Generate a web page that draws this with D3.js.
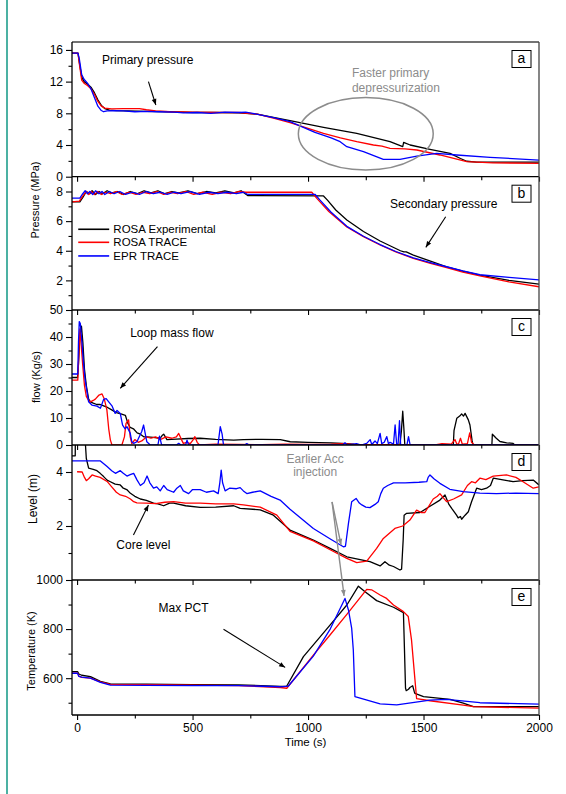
<!DOCTYPE html>
<html>
<head>
<meta charset="utf-8">
<script src="https://cdn.jsdelivr.net/npm/d3@7"></script>
<style>
  html, body { margin: 0; padding: 0; background: #fff; }
  svg { display: block; font-family: Arial, "Liberation Sans", sans-serif; }
</style>
</head>
<body>
<svg id="chart" width="566" height="794"></svg>
<script>
// ---- Data: time (s) and value pairs for each transient ----
const seriesNames = ["ROSA Experimental", "ROSA TRACE", "EPR TRACE"];

const timeTicks = [0, 500, 1000, 1500, 2000];
const timeMinorTicks = [250, 750, 1250, 1750];
const pressureTicksA = [0, 4, 8, 12, 16];
const pressureMinorA = [2, 6, 10, 14];
const pressureTicksB = [2, 4, 6, 8];
const pressureMinorB = [1, 3, 5, 7];
const flowTicks = [0, 10, 20, 30, 40, 50];
const flowMinor = [5, 15, 25, 35, 45];
const levelTicks = [2, 4];
const levelMinor = [1, 3];
const tempTicks = [600, 800, 1000];
const tempMinor = [500, 700, 900];

// (a) primary pressure, MPa
const primaryExp = [[-22,15.6],[4,15.6],[10,14.4],[20,12.6],[30,12.0],[45,11.7],[60,11.3],[75,10.6],[90,9.7],[105,9.0],[120,8.6],[140,8.4],[170,8.35],[220,8.3],[300,8.25],[400,8.2],[500,8.1],[600,8.1],[700,8.05],[780,7.9],[850,7.5],[922,7.07],[1067,6.23],[1211,5.47],[1355,4.42],[1410,3.8],[1414,4.34],[1442,4.0],[1528,3.46],[1615,2.95],[1660,2.3],[1687,1.95],[1730,1.85],[2000,1.85]];
const primaryRosa = [[-22,15.6],[4,15.6],[10,14.2],[20,12.2],[30,11.8],[45,11.5],[60,11.1],[75,10.4],[90,9.5],[105,8.9],[120,8.65],[150,8.55],[200,8.6],[270,8.6],[300,8.45],[340,8.3],[400,8.2],[500,8.15],[600,8.1],[700,8.1],[780,7.9],[850,7.4],[922,6.82],[1000,6.1],[1067,5.47],[1140,4.9],[1211,4.42],[1283,4.0],[1320,3.85],[1355,3.58],[1420,3.5],[1471,3.37],[1571,2.74],[1687,1.9],[1800,1.75],[2000,1.69]];
const primaryEpr = [[-22,15.6],[4,15.6],[10,14.8],[20,12.9],[30,12.3],[45,11.8],[60,11.1],[75,10.0],[90,8.9],[105,8.35],[115,8.2],[130,8.3],[160,8.35],[200,8.3],[250,8.2],[300,8.25],[350,8.2],[420,8.15],[460,8.05],[520,8.1],[580,8.0],[640,8.15],[700,8.1],[730,8.15],[760,8.0],[850,7.45],[922,6.94],[1030,5.6],[1100,4.9],[1139,4.42],[1168,3.79],[1240,3.16],[1290,2.6],[1326,2.19],[1398,2.19],[1471,2.61],[1557,2.95],[1644,2.74],[1788,2.45],[2000,2.1]];

// (b) secondary pressure, MPa
const secondaryExp = [[-22,7.3],[12,7.3],[25,7.6],[40,8.0],[55,7.85],[65,8.05],[80,7.8],[95,8.0],[110,7.85],[130,8.05],[150,7.9],[175,8.0],[200,7.8],[230,8.0],[260,7.85],[290,8.05],[320,7.9],[350,8.05],[380,7.85],[410,8.0],[440,7.9],[480,8.05],[520,7.85],[560,8.0],[600,7.9],[640,8.05],[680,7.9],[710,8.05],[740,7.72],[1067,7.7],[1085,7.4],[1120,6.75],[1168,6.08],[1240,5.3],[1312,4.66],[1400,4.0],[1415,3.92],[1425,3.92],[1456,3.71],[1530,3.3],[1600,2.92],[1670,2.62],[1744,2.36],[1870,2.0],[2000,1.74]];
const secondaryRosa = [[-22,7.3],[10,7.35],[25,7.7],[40,8.0],[50,7.8],[62,8.0],[75,7.8],[90,8.0],[105,7.8],[125,7.95],[145,7.85],[170,8.0],[195,7.8],[225,7.95],[255,7.8],[285,7.95],[315,7.85],[345,8.0],[375,7.8],[405,7.95],[435,7.85],[470,8.0],[505,7.8],[545,7.95],[585,7.8],[625,7.95],[665,7.85],[700,8.0],[730,7.95],[1016,7.95],[1040,7.5],[1090,6.65],[1168,5.6],[1240,4.95],[1312,4.39],[1380,3.92],[1456,3.49],[1530,3.15],[1600,2.86],[1670,2.56],[1744,2.30],[1870,1.9],[2000,1.57]];
const secondaryEpr = [[-22,7.55],[12,7.55],[22,7.8],[35,8.05],[45,7.85],[55,8.0],[68,7.8],[80,8.05],[95,7.85],[108,8.0],[120,7.8],[140,8.0],[160,7.85],[185,8.0],[210,7.8],[240,7.95],[270,7.8],[300,8.0],[330,7.85],[360,7.95],[390,7.8],[420,7.95],[450,7.85],[490,8.0],[530,7.8],[570,7.95],[610,7.85],[650,7.95],[690,7.85],[720,7.95],[740,7.8],[1031,7.8],[1050,7.45],[1100,6.6],[1168,5.65],[1240,4.98],[1312,4.42],[1380,3.95],[1456,3.52],[1530,3.2],[1600,2.92],[1670,2.64],[1744,2.38],[1870,2.2],[2000,2.03]];

// (c) loop mass flow, kg/s
const flowExp = [[-22,25],[2,25],[6,30],[12,40],[19,44],[25,38],[32,28],[40,22],[50,17],[58,16],[70,15.5],[85,15],[100,15],[115,14.5],[130,14],[150,13],[170,12],[190,11.5],[209,11],[220,8],[230,6.5],[244,6],[260,4.5],[274,4],[290,3],[303,3],[330,2.8],[360,2.5],[368,3.5],[375,4],[382,3],[389,2],[430,2.2],[480,2.4],[533,2.5],[600,2.1],[678,1.8],[720,2.0],[800,2.1],[880,2.0],[923,1.2],[1000,1.0],[1100,0.8],[1170,0.5],[1200,0.2],[1398,0.1],[1404,5],[1410,12.5],[1415,6],[1419,0],[1629,0],[1632,5.3],[1644,9.9],[1658,10.8],[1665,11.5],[1673,10.7],[1680,11.7],[1694,9.3],[1701,7.4],[1710,1.8],[1714,0],[1796,0],[1798,4],[1815,2.5],[1831,1.3],[1860,0.8],[1888,0.6],[1895,0],[2000,0]];
const flowRosa = [[-22,24],[3,24],[7,32],[12,43],[17,38],[24,30],[32,22],[40,18],[50,16.5],[58,16],[70,16.5],[79,17],[95,18.5],[108,18.9],[118,17],[129,13],[137,6],[144,1.9],[151,0],[194,0],[205,3],[212,8],[223,9.3],[230,3],[237,0.5],[250,2],[265,1],[280,1.5],[300,3],[320,2.5],[340,3],[360,2],[385,3],[410,2.5],[430,3],[440,4.3],[452,2],[460,0.6],[475,1],[490,0.5],[503,2],[510,3.1],[520,1],[530,0],[600,0.3],[700,0.2],[800,0.1],[900,0.3],[1000,0.2],[1100,0.3],[1150,0.5],[1200,0.2],[1550,0],[1580,0.5],[1620,0.3],[1636,2],[1645,0.2],[1652,0.5],[1660,2.5],[1668,0.3],[1690,0.5],[1700,4.5],[1708,1],[1720,0],[2000,0]];
const flowEpr = [[-22,26.3],[3,26.3],[6,38],[9.5,45.7],[14,45],[21,38],[28,30],[35,24],[50,16],[64,14.8],[86,14.4],[101,13.6],[115,16.9],[126,17.2],[137,16],[151,14.5],[165,11.7],[173,12.8],[187,11.7],[197,7.4],[208,6],[216,6.8],[230,4.4],[237,1.2],[245,0.6],[259,1.2],[280,5],[288,7.4],[302,1.2],[317,0],[350,0],[357,3.3],[366,0],[430,0],[440,0.6],[450,0],[470,0],[476,1.8],[483,0],[610,0],[620,6.8],[628,4],[634,0],[725,0],[735,0.5],[745,0],[1150,0],[1160,0.8],[1170,0],[1210,0.5],[1230,0],[1254,0.6],[1269,2],[1276,0.2],[1290,1.5],[1300,0.5],[1312,4.3],[1319,0.5],[1330,1],[1341,3.1],[1348,0.5],[1355,1],[1370,0.3],[1377,7.4],[1384,0],[1390,0.5],[1396,9],[1401,0],[1428,0],[1435,3.1],[1442,0],[2000,0]];

// (d) core level, m
const levelExp = [[-22,4.6],[-8,4.6],[-7,6],[29,6],[40,4.5],[50,4.14],[70,4.1],[86,4.05],[100,3.95],[115,3.83],[130,3.7],[144,3.64],[165,3.55],[187,3.52],[200,3.4],[215,3.35],[231,3.21],[250,3.1],[274,3.0],[300,2.95],[331,2.85],[350,2.82],[375,2.75],[400,2.85],[418,2.85],[470,2.75],[533,2.69],[600,2.7],[678,2.75],[706,2.65],[793,2.6],[850,2.4],[922,1.85],[1023,1.48],[1100,1.15],[1168,0.86],[1268,0.68],[1312,0.52],[1333,0.68],[1352,0.55],[1370,0.5],[1398,0.37],[1405,0.4],[1412,1.5],[1416,2.4],[1427,2.47],[1485,2.5],[1528,2.73],[1571,2.96],[1593,3.15],[1610,2.8],[1622,2.65],[1643,2.4],[1650,2.3],[1660,2.35],[1665,2.25],[1680,2.4],[1694,2.53],[1708,2.9],[1730,3.4],[1751,3.35],[1773,3.4],[1790,3.5],[1802,3.77],[1850,3.7],[1888,3.64],[1930,3.68],[1975,3.7],[2000,3.52]];
const levelRosa = [[0,4.01],[22,4.0],[32,3.8],[40,3.68],[50,3.75],[65,3.89],[80,3.85],[100,3.8],[130,3.65],[150,3.45],[170,3.25],[187,3.15],[210,3.1],[231,3.0],[245,2.9],[259,2.86],[300,2.85],[340,2.83],[380,2.88],[418,2.9],[470,2.85],[533,2.85],[600,2.82],[678,2.82],[720,2.78],[793,2.7],[865,2.4],[922,1.8],[1023,1.45],[1100,1.1],[1168,0.8],[1211,0.64],[1254,0.7],[1297,1.17],[1326,1.54],[1376,1.91],[1410,2.0],[1441,2.22],[1470,2.59],[1490,2.5],[1506,2.5],[1542,3.0],[1560,3.1],[1571,3.2],[1585,3.05],[1600,2.9],[1630,3.0],[1665,3.15],[1690,3.5],[1708,3.64],[1725,3.6],[1744,3.77],[1770,3.72],[1802,3.85],[1859,3.89],[1900,3.8],[1931,3.64],[1975,3.4],[2000,3.45]];
const levelEpr = [[-22,4.41],[101,4.41],[130,4.2],[150,4.05],[166,3.95],[187,4.05],[200,3.95],[216,3.85],[230,3.9],[245,3.95],[260,3.7],[274,3.5],[290,3.6],[303,3.85],[315,3.6],[331,3.4],[345,3.45],[360,3.3],[375,3.5],[390,3.35],[418,3.25],[432,3.4],[447,3.5],[460,3.3],[483,3.2],[500,3.35],[533,3.35],[560,3.25],[591,3.3],[611,3.2],[618,3.6],[624,4.07],[630,3.6],[641,3.3],[660,3.4],[690,3.38],[706,3.42],[720,3.3],[735,3.2],[760,3.25],[793,3.3],[840,3.1],[879,2.96],[922,2.62],[1023,1.91],[1100,1.5],[1153,1.23],[1162,1.25],[1175,2.1],[1189,2.9],[1208,3.02],[1222,2.85],[1233,2.78],[1250,2.7],[1268,2.68],[1290,2.8],[1304,2.9],[1315,3.2],[1326,3.4],[1345,3.5],[1370,3.6],[1420,3.6],[1480,3.62],[1514,3.64],[1520,3.8],[1528,3.89],[1545,3.75],[1571,3.58],[1614,3.36],[1672,3.27],[1744,3.22],[1816,3.2],[1900,3.22],[2000,3.2]];

// (e) maximum peak cladding temperature, K
const pctExp = [[-22,627],[2,627],[8,617],[20,612],[58,606],[101,587],[144,577],[300,576],[500,574],[700,573],[880,567],[908,568],[980,688],[1096,817],[1168,898],[1218,975],[1247,952],[1297,916],[1370,889],[1413,867],[1418,700],[1422,560],[1425,549],[1435,555],[1441,562],[1453,569],[1460,545],[1463,538],[1500,525],[1615,514],[1672,498],[1716,484],[2000,484]];
const pctRosa = [[-22,620],[2,620],[8,608],[20,603],[58,600],[101,585],[144,575],[300,574],[500,572],[700,570],[880,562],[908,559],[1023,694],[1096,777],[1168,860],[1254,962],[1275,960],[1312,939],[1340,925],[1370,898],[1413,871],[1434,851],[1448,756],[1463,593],[1470,517],[1528,508],[1672,490],[1716,484],[2000,478]];
const pctEpr = [[-22,620],[2,620],[8,607],[20,604],[58,600],[101,583],[144,572],[300,571],[500,570],[700,570],[880,565],[915,568],[1023,690],[1096,800],[1160,925],[1175,878],[1189,803],[1196,715],[1203,525],[1312,495],[1384,491],[1528,511],[1600,514],[1744,500],[2000,494]];

// ---- Layout and style ----
const lineColors = ["#000000", "#ff0000", "#0000ff"];
const plotLeft = 72, plotRight = 539;
const svg = d3.select("#chart");

const x = d3.scaleLinear().domain([-22, 2000]).range([plotLeft, plotRight]);

const panels = [
  { id: "a", top: 42, bottom: 176.7, domain: [0, 17], major: pressureTicksA, minor: pressureMinorA,
    series: [primaryExp, primaryRosa, primaryEpr] },
  { id: "b", top: 176.7, bottom: 310, domain: [0, 9], major: pressureTicksB, minor: pressureMinorB,
    series: [secondaryExp, secondaryRosa, secondaryEpr] },
  { id: "c", top: 310, bottom: 445, domain: [0, 50], major: flowTicks, minor: flowMinor,
    series: [flowExp, flowRosa, flowEpr] },
  { id: "d", top: 445, bottom: 580, domain: [0, 5], major: levelTicks, minor: levelMinor,
    series: [levelExp, levelRosa, levelEpr] },
  { id: "e", top: 580, bottom: 715, domain: [450, 1000], major: tempTicks, minor: tempMinor,
    series: [pctExp, pctRosa, pctEpr] }
];
panels.forEach(p => { p.y = d3.scaleLinear().domain(p.domain).range([p.bottom, p.top]); });
const P = Object.fromEntries(panels.map(p => [p.id, p]));

// Teal page rule on the left
svg.append("line").attr("x1", 7).attr("x2", 7).attr("y1", 0).attr("y2", 794)
  .attr("stroke", "#1f9e8c").attr("stroke-width", 1.6);

const defs = svg.append("defs");
function arrowMarker(id, color) {
  defs.append("marker").attr("id", id).attr("viewBox", "0 0 10 10")
    .attr("refX", 10).attr("refY", 5).attr("markerWidth", 7).attr("markerHeight", 6)
    .attr("markerUnits", "userSpaceOnUse").attr("orient", "auto")
    .append("path").attr("d", "M0,1L10,5L0,9Z").attr("fill", color);
}
arrowMarker("headBlack", "#000");
arrowMarker("headGray", "#8c8c8c");

// ---- Panels ----
panels.forEach(p => {
  const g = svg.append("g").attr("class", "panel-" + p.id);
  const clipId = "clip-" + p.id;
  defs.append("clipPath").attr("id", clipId).append("rect")
    .attr("x", plotLeft).attr("y", p.top).attr("width", plotRight - plotLeft).attr("height", p.bottom - p.top);

  const line = d3.line().x(d => x(d[0])).y(d => p.y(d[1]));
  const lines = g.append("g").attr("clip-path", `url(#${clipId})`);
  p.series.forEach((s, i) => {
    lines.append("path").datum(s).attr("d", line)
      .attr("fill", "none").attr("stroke", lineColors[i]).attr("stroke-width", 1.3)
      .attr("stroke-linejoin", "round");
  });

  // left axis, major and minor ticks
  const yAxis = d3.axisLeft(p.y).tickValues(p.major).tickSize(6).tickPadding(3).tickFormat(d3.format("d"));
  const ga = g.append("g").attr("transform", `translate(${plotLeft},0)`).call(yAxis);
  const gm = g.append("g").attr("transform", `translate(${plotLeft},0)`)
    .call(d3.axisLeft(p.y).tickValues(p.minor).tickSize(3.5).tickFormat(""));
  [ga, gm].forEach(a => { a.select(".domain").remove(); a.selectAll("line").attr("stroke", "#000").attr("stroke-width", 1.1); });
  ga.selectAll("text").attr("font-size", 12).attr("fill", "#000").attr("font-family", "Arial, 'Liberation Sans', sans-serif");

  // bottom axis of each panel (labels only on the last one)
  const last = p.id === "e";
  const xAxis = d3.axisBottom(x).tickValues(timeTicks).tickSize(5).tickPadding(3)
    .tickFormat(last ? d3.format("d") : "");
  const gx = g.append("g").attr("transform", `translate(0,${p.bottom})`).call(xAxis);
  const gxm = g.append("g").attr("transform", `translate(0,${p.bottom})`)
    .call(d3.axisBottom(x).tickValues(timeMinorTicks).tickSize(3.5).tickFormat(""));
  [gx, gxm].forEach(a => { a.select(".domain").remove(); a.selectAll("line").attr("stroke", "#000").attr("stroke-width", 1.1); });
  gx.selectAll("text").attr("font-size", 12).attr("fill", "#000").attr("font-family", "Arial, 'Liberation Sans', sans-serif");

  // panel frame
  g.append("line").attr("x1", plotLeft).attr("x2", plotRight).attr("y1", p.bottom).attr("y2", p.bottom)
    .attr("stroke", "#000").attr("stroke-width", 1.3);
  g.append("line").attr("x1", plotRight).attr("x2", plotRight).attr("y1", p.top).attr("y2", p.bottom)
    .attr("stroke", "#444").attr("stroke-width", 1.3);

  // panel letter in a box
  const bx = 512, by = p.top + 8.5;
  g.append("rect").attr("x", bx).attr("y", by).attr("width", 19).attr("height", 17)
    .attr("fill", "#fff").attr("stroke", "#000").attr("stroke-width", 1);
  g.append("text").attr("x", bx + 9.5).attr("y", by + 12.8).attr("text-anchor", "middle")
    .attr("font-size", 14).text(p.id);
});

// top border and left axis line
svg.append("line").attr("x1", plotLeft).attr("x2", plotRight).attr("y1", P.a.top).attr("y2", P.a.top)
  .attr("stroke", "#444").attr("stroke-width", 1.3);
svg.append("line").attr("x1", plotLeft).attr("x2", plotLeft).attr("y1", P.a.top).attr("y2", P.e.bottom)
  .attr("stroke", "#000").attr("stroke-width", 1.3);

// ---- Axis titles ----
function yTitle(txt, bx, cy, size) {
  svg.append("text").attr("transform", `translate(${bx},${cy}) rotate(-90)`)
    .attr("text-anchor", "middle").attr("font-size", size).text(txt);
}
yTitle("Pressure (MPa)", 39, 200, 11);
yTitle("flow (Kg/s)", 40, 377, 11);
yTitle("Level (m)", 36.5, 499, 12);
yTitle("Temperature (K)", 35, 651, 11);
svg.append("text").attr("x", (plotLeft + plotRight) / 2).attr("y", 746)
  .attr("text-anchor", "middle").attr("font-size", 11.5).text("Time (s)");

// ---- Annotations (placed in data units of each panel) ----
function note(p, t, v, txt, opts = {}) {
  return svg.append("text").attr("x", x(t)).attr("y", P[p].y(v))
    .attr("text-anchor", opts.anchor || "start").attr("font-size", opts.size || 12)
    .attr("fill", opts.color || "#000").text(txt);
}
function arrow(p, t0, v0, t1, v1, gray) {
  svg.append("line").attr("x1", x(t0)).attr("y1", P[p].y(v0)).attr("x2", x(t1)).attr("y2", P[p].y(v1))
    .attr("stroke", gray ? "#8c8c8c" : "#000").attr("stroke-width", gray ? 1.4 : 1.1)
    .attr("marker-end", gray ? "url(#headGray)" : "url(#headBlack)");
}

note("a", 108, 14.2, "Primary pressure");
arrow("a", 309, 12.0, 341, 9.05);
note("a", 1190, 12.6, "Faster primary", { color: "#8c8c8c" });
note("a", 1190, 10.73, "depressurization", { color: "#8c8c8c" });
svg.append("ellipse").attr("cx", x(1250)).attr("cy", P.a.y(5.41))
  .attr("rx", x(1542) - x(1250)).attr("ry", P.a.y(0.84) - P.a.y(5.41))
  .attr("fill", "none").attr("stroke", "#8c8c8c").attr("stroke-width", 1.5);

note("b", 1355, 6.87, "Secondary pressure");
arrow("b", 1596, 6.3, 1510, 4.23);

// legend
const legendRows = [5.45, 4.57, 3.65];
seriesNames.forEach((name, i) => {
  const yy = P.b.y(legendRows[i]);
  svg.append("line").attr("x1", x(5)).attr("x2", x(139)).attr("y1", yy).attr("y2", yy)
    .attr("stroke", lineColors[i]).attr("stroke-width", 1.6);
  svg.append("text").attr("x", x(157)).attr("y", yy + 4).attr("font-size", 11.5).text(name);
});

note("c", 230, 40.1, "Loop mass flow");
arrow("c", 348, 36.4, 187, 21);

note("d", 1031, 4.32, "Earlier Acc", { anchor: "middle", color: "#8c8c8c" });
note("d", 1031, 3.85, "injection", { anchor: "middle", color: "#8c8c8c" });
arrow("d", 1104, 2.89, 1143, 1.3, true);
arrow("d", 1104, 2.89, 1156, -0.59, true);
note("d", 170, 1.15, "Core level");
arrow("d", 244, 1.67, 309, 2.78);

note("e", 353, 871, "Max PCT");
arrow("e", 634, 799, 901, 644);
</script>
</body>
</html>
